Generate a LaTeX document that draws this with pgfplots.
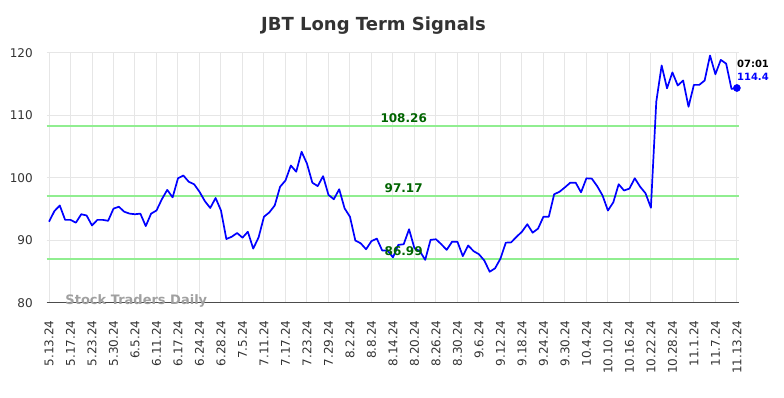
\documentclass[border=0pt]{standalone}
\usepackage{pgfplots}
\pgfplotsset{compat=1.18}
\usepackage{fontspec}
\setmainfont{DejaVu Sans}
\definecolor{titlegray}{HTML}{333333}
\definecolor{gridgray}{HTML}{E6E6E6}
\definecolor{lgreen}{HTML}{90EE90}
\definecolor{dgreen}{HTML}{006400}
\definecolor{wmgray}{HTML}{A0A0A0}
\pgfplotstableread{
x y
0 93.0
1 94.7
2 95.6
3 93.3
4 93.3
5 92.85
6 94.2
7 94.0
8 92.4
9 93.3
10 93.3
11 93.15
12 95.1
13 95.4
14 94.6
15 94.3
16 94.2
17 94.3
18 92.3
19 94.3
20 94.8
21 96.6
22 98.1
23 96.9
24 99.95
25 100.4
26 99.4
27 99.0
28 97.8
29 96.3
30 95.2
31 96.8
32 94.8
33 90.24
34 90.6
35 91.2
36 90.45
37 91.4
38 88.7
39 90.5
40 93.8
41 94.5
42 95.6
43 98.6
44 99.6
45 102.0
46 101.0
47 104.2
48 102.3
49 99.25
50 98.7
51 100.3
52 97.3
53 96.6
54 98.2
55 95.15
56 93.8
57 90.0
58 89.55
59 88.6
60 89.9
61 90.3
62 88.4
63 88.4
64 87.3
65 89.3
66 89.4
67 91.8
68 88.75
69 88.3
70 86.9
71 90.1
72 90.2
73 89.4
74 88.5
75 89.8
76 89.8
77 87.5
78 89.2
79 88.3
80 87.8
81 86.8
82 85.0
83 85.55
84 87.1
85 89.65
86 89.7
87 90.6
88 91.4
89 92.6
90 91.25
91 91.9
92 93.8
93 93.8
94 97.4
95 97.8
96 98.5
97 99.25
98 99.25
99 97.7
100 99.95
101 99.9
102 98.7
103 97.2
104 94.8
105 96.1
106 99.0
107 98.0
108 98.3
109 99.95
110 98.6
111 97.55
112 95.25
113 112.2
114 118.0
115 114.35
116 116.9
117 114.8
118 115.6
119 111.4
120 114.9
121 114.9
122 115.6
123 119.6
124 116.6
125 118.9
126 118.3
127 114.25
128 114.4
}\jbt
\begin{document}
\begin{tikzpicture}
\useasboundingbox (0,0) rectangle (784pt,398pt);
\node[font=\fontsize{18}{20}\selectfont\bfseries, text=titlegray] at (373.5pt,372pt) {JBT Long Term Signals};
\begin{axis}[
  at={(46.7pt,95pt)}, anchor=south west,
  scale only axis, width=692.6pt, height=250pt,
  xmin=-0.43, xmax=128.45, ymin=80, ymax=120,
  axis x line*=bottom, axis y line*=left,
  x axis line style={-, draw=black!70, line width=1pt},
  y axis line style={draw=none},
  major tick length=0pt,
  xtick={0,4,...,128},
  xticklabels={5.13.24,5.17.24,5.23.24,5.30.24,6.5.24,6.11.24,6.17.24,6.24.24,6.28.24,7.5.24,7.11.24,7.17.24,7.23.24,7.29.24,8.2.24,8.8.24,8.14.24,8.20.24,8.26.24,8.30.24,9.6.24,9.12.24,9.18.24,9.24.24,9.30.24,10.4.24,10.10.24,10.16.24,10.22.24,10.28.24,11.1.24,11.7.24,11.13.24},
  ytick={80,90,...,120},
  /pgf/number format/assume math mode=true,
  xticklabel style={rotate=90, anchor=east, font=\fontsize{12}{14}\selectfont, text=titlegray, xshift=-14pt},
  yticklabel style={anchor=east, font=\fontsize{12}{14}\selectfont, text=titlegray, xshift=-10.5pt},
  grid=major, grid style={gridgray, line width=1pt},
  clip=false,
]
\node[font=\fontsize{13}{15}\selectfont\bfseries, text=wmgray, anchor=base west, yshift=-2pt] at (axis cs:2.4,80) {Stock Traders Daily};
\addplot[lgreen, line width=2pt, forget plot] coordinates {(-0.43,108.26) (128.45,108.26)};
\addplot[lgreen, line width=2pt, forget plot] coordinates {(-0.43,97.17) (128.45,97.17)};
\addplot[lgreen, line width=2pt, forget plot] coordinates {(-0.43,86.99) (128.45,86.99)};
\addplot[blue, line width=1.7pt, line join=round] table[x=x,y=y] {\jbt};
\addplot[blue, only marks, mark=*, mark size=3.6pt] coordinates {(128,114.4)};
\node[font=\fontsize{12}{14}\selectfont\bfseries, text=dgreen, anchor=base] at (axis cs:66,108.26) [yshift=3.5pt] {108.26};
\node[font=\fontsize{12}{14}\selectfont\bfseries, text=dgreen, anchor=base] at (axis cs:66,97.17) [yshift=3.5pt] {97.17};
\node[font=\fontsize{12}{14}\selectfont\bfseries, text=dgreen, anchor=base] at (axis cs:66,86.99) [yshift=3.5pt] {86.99};
\node[font=\fontsize{10}{12}\selectfont\bfseries, text=black, anchor=west, inner sep=0pt] at (axis cs:128,114.4) [yshift=24pt] {07:01};
\node[font=\fontsize{10}{12}\selectfont\bfseries, text=blue, anchor=west, inner sep=0pt] at (axis cs:128,114.4) [yshift=11pt] {114.4};
\end{axis}
\end{tikzpicture}
\end{document}
